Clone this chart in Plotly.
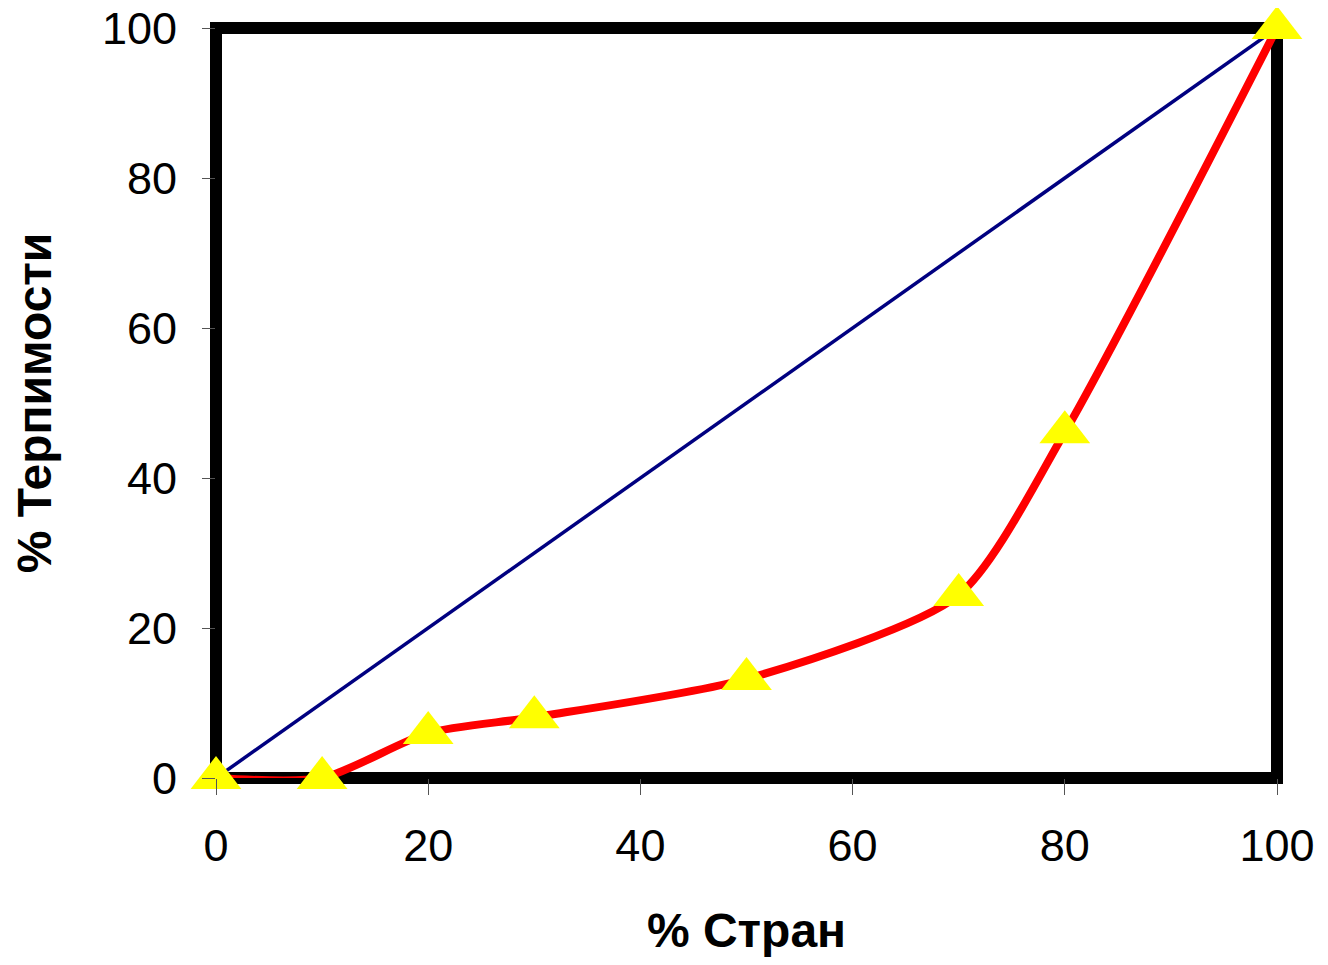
import plotly.graph_objects as go

# Data
countries_pct = [0, 10, 20, 30, 50, 70, 80, 100]
tolerance_pct = [0, 0, 6.0, 8.1, 13.2, 24.4, 46.1, 100]
equality_x = [0, 10, 20, 30, 40, 50, 60, 70, 80, 90, 100]
equality_y = [0, 10, 20, 30, 40, 50, 60, 70, 80, 90, 100]
tick_vals = [0, 20, 40, 60, 80, 100]
tick_text = ["0", "20", "40", "60", "80", "100"]
x_title = "% Стран"
y_title = "% Терпимости"

fig = go.Figure()
fig.add_trace(go.Scatter(
    x=equality_x, y=equality_y, mode="lines",
    line=dict(color="#000080", width=3.5),
    cliponaxis=False, showlegend=False, hoverinfo="skip"))
fig.add_trace(go.Scatter(
    x=countries_pct, y=tolerance_pct, mode="lines",
    line=dict(color="#ff0000", width=8, shape="spline", smoothing=0.7),
    cliponaxis=False, showlegend=False))
fig.add_trace(go.Scatter(
    x=countries_pct, y=tolerance_pct, mode="markers",
    marker=dict(symbol="triangle-up", size=44, color="#ffff00",
                line=dict(width=0)),
    cliponaxis=False, showlegend=False))

fig.add_shape(type="rect", xref="paper", yref="paper", x0=0, x1=1, y0=0, y1=1,
              line=dict(color="black", width=12), layer="below")

font_reg = dict(family="Liberation Sans, Arial, sans-serif", size=45, color="black")
font_bold = dict(family="Liberation Sans, Arial, sans-serif", size=48, color="black", weight="bold")

fig.update_layout(
    width=1320, height=949,
    margin=dict(l=208, r=51, t=20, b=179),
    paper_bgcolor="white", plot_bgcolor="white",
    xaxis=dict(range=[0, 100], tickvals=tick_vals, ticktext=tick_text,
               showgrid=False, zeroline=False, showline=False, automargin=False,
               ticks="outside", ticklen=16, tickwidth=1, tickcolor="#555555",
               tickfont=font_reg, ticklabelstandoff=12, ticklabeloverflow="allow",
               title=dict(text=x_title, font=font_bold, standoff=50)),
    yaxis=dict(range=[0, 100], tickvals=tick_vals, ticktext=tick_text,
               showgrid=False, zeroline=False, showline=False, automargin=False,
               ticks="outside", ticklen=13, tickwidth=1, tickcolor="#555555",
               tickfont=font_reg, ticklabelstandoff=16, ticklabeloverflow="allow",
               title=dict(text=y_title, font=font_bold, standoff=40)),
)

fig.write_html("out.html")
